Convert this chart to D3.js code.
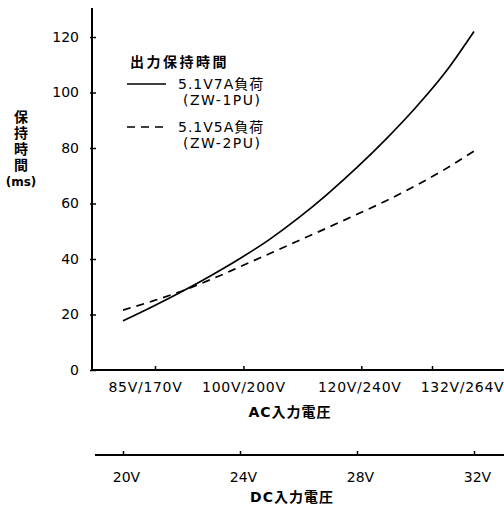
<!DOCTYPE html>
<html>
<head>
<meta charset="utf-8">
<script src="https://cdn.jsdelivr.net/npm/d3@7"></script>
<style>
  body { margin: 0; background: #fff; }
  text { font-family: "DejaVu Sans", "Noto Sans CJK JP", sans-serif; fill: #000; }
</style>
</head>
<body>
<svg id="chart" width="504" height="505"></svg>
<script>
// DC input voltage (V) and hold-up time (ms)
const dcVolts = [20, 21, 22, 23, 24, 25, 26, 27, 28, 29, 30, 31, 32];
const holdZW1 = [17.7, 22.8, 28.2, 34.0, 40.2, 47.0, 54.8, 63.5, 73.0, 83.3, 94.5, 107.0, 122.0];
const holdZW2 = [21.6, 24.8, 28.4, 32.6, 37.2, 41.9, 46.6, 51.3, 56.1, 61.0, 66.4, 72.3, 78.9];

const acTicks = [85, 100, 120, 132];
const acTickLabels = ["85V/170V", "100V/200V", "120V/240V", "132V/264V"];
const dcTicks = [20, 24, 28, 32];
const dcTickLabels = ["20V", "24V", "28V", "32V"];
const yTicks = [0, 20, 40, 60, 80, 100, 120];

const yTitle = ["保", "持", "時", "間", "(ms)"];
const acTitle = "AC入力電圧";
const dcTitle = "DC入力電圧";
const legendTitle = "出力保持時間";
const seriesNames = [
  ["5.1V7A負荷", "(ZW-1PU)"],
  ["5.1V5A負荷", "(ZW-2PU)"],
];

const svg = d3.select("#chart");

const plot = { left: 92, right: 504, top: 8, bottom: 370 };
const dcAxisY = 455;

const y = d3.scaleLinear().domain([0, 120]).range([370, 37]);
const xAC = d3.scaleLinear().domain([85, 132]).range([155, 432]);
const xDC = d3.scaleLinear().domain([20, 32]).range([123, 474]);

// y axis
const yAxis = svg
  .append("g")
  .attr("transform", `translate(${plot.left},0)`)
  .call(d3.axisLeft(y).tickValues(yTicks).tickSizeInner(-4).tickSizeOuter(0).tickPadding(13))
  .call((g) => g.select(".domain").remove());
yAxis.selectAll(".tick line").attr("stroke", "#000").attr("stroke-width", 1.5).attr("x1", -2);
yAxis.selectAll(".tick text").style("font-size", "14px").attr("fill", "#000");

// AC axis
const acAxis = svg
  .append("g")
  .attr("transform", `translate(0,${plot.bottom})`)
  .call(
    d3.axisBottom(xAC)
      .tickValues(acTicks)
      .tickFormat((d, i) => acTickLabels[i])
      .tickSizeInner(-4)
      .tickSizeOuter(0)
      .tickPadding(12)
  )
  .call((g) => g.select(".domain").remove());
acAxis.selectAll(".tick line").attr("stroke", "#000").attr("stroke-width", 1.5);
const acShift = [-10, 0, -2, 30];
acAxis.selectAll(".tick text")
  .style("font-size", "14px")
  .style("letter-spacing", "0.7px")
  .attr("fill", "#000")
  .attr("dx", (d, i) => acShift[i]);

// DC axis
const dcAxis = svg
  .append("g")
  .attr("transform", `translate(0,${dcAxisY})`)
  .call(
    d3.axisBottom(xDC)
      .tickValues(dcTicks)
      .tickFormat((d, i) => dcTickLabels[i])
      .tickSizeInner(-4)
      .tickSizeOuter(0)
      .tickPadding(17)
  )
  .call((g) => g.select(".domain").remove());
dcAxis.selectAll(".tick line").attr("stroke", "#000").attr("stroke-width", 1.5);
dcAxis.selectAll(".tick text").style("font-size", "14px").attr("fill", "#000").attr("dx", 3);

// axis lines
svg.append("line")
  .attr("x1", plot.left).attr("x2", plot.left)
  .attr("y1", plot.top).attr("y2", plot.bottom + 1)
  .attr("stroke", "#000").attr("stroke-width", 2);
svg.append("line")
  .attr("x1", plot.left).attr("x2", plot.right)
  .attr("y1", plot.bottom).attr("y2", plot.bottom)
  .attr("stroke", "#000").attr("stroke-width", 2);
svg.append("line")
  .attr("x1", 95).attr("x2", plot.right)
  .attr("y1", dcAxisY).attr("y2", dcAxisY)
  .attr("stroke", "#000").attr("stroke-width", 1.8);

// axis titles
svg.append("text")
  .attr("x", 290).attr("y", 417)
  .attr("text-anchor", "middle")
  .style("font-size", "14px").style("font-weight", "bold").style("letter-spacing", "1px")
  .text(acTitle);
svg.append("text")
  .attr("x", 292).attr("y", 502)
  .attr("text-anchor", "middle")
  .style("font-size", "14px").style("font-weight", "bold").style("letter-spacing", "1px")
  .text(dcTitle);

svg.append("g")
  .selectAll("text")
  .data(yTitle)
  .join("text")
  .attr("x", 21)
  .attr("y", (d, i) => 122 + i * 16)
  .attr("text-anchor", "middle")
  .style("font-size", (d, i) => (i === 4 ? "12px" : "14px"))
  .style("font-weight", "bold")
  .text((d) => d);

// curves
const line = (vals) =>
  d3.line()
    .x((d, i) => xDC(dcVolts[i]))
    .y((d) => y(d))
    .curve(d3.curveMonotoneX)(vals);

svg.append("path")
  .attr("d", line(holdZW1))
  .attr("fill", "none")
  .attr("stroke", "#000")
  .attr("stroke-width", 1.7);

svg.append("path")
  .attr("d", line(holdZW2))
  .attr("fill", "none")
  .attr("stroke", "#000")
  .attr("stroke-width", 1.7)
  .attr("stroke-dasharray", "8,6");

// legend
svg.append("text")
  .attr("x", 130).attr("y", 67)
  .style("font-size", "14px").style("font-weight", "bold").style("letter-spacing", "2.5px")
  .text(legendTitle);

const legend = svg.append("g")
  .selectAll("g")
  .data(seriesNames)
  .join("g")
  .attr("transform", (d, i) => `translate(0,${84 + i * 43})`);

legend.append("line")
  .attr("x1", 127).attr("x2", 166)
  .attr("y1", 0).attr("y2", 0)
  .attr("stroke", "#000")
  .attr("stroke-width", 1.7)
  .attr("stroke-dasharray", (d, i) => (i === 1 ? "8,6" : null));

legend.append("text")
  .attr("x", 178).attr("y", 5)
  .style("font-size", "14px")
  .style("letter-spacing", "1px")
  .text((d) => d[0]);

legend.append("text")
  .attr("x", 183).attr("y", 21)
  .style("font-size", "14px")
  .style("letter-spacing", "1.5px")
  .text((d) => d[1]);
</script>
</body>
</html>
